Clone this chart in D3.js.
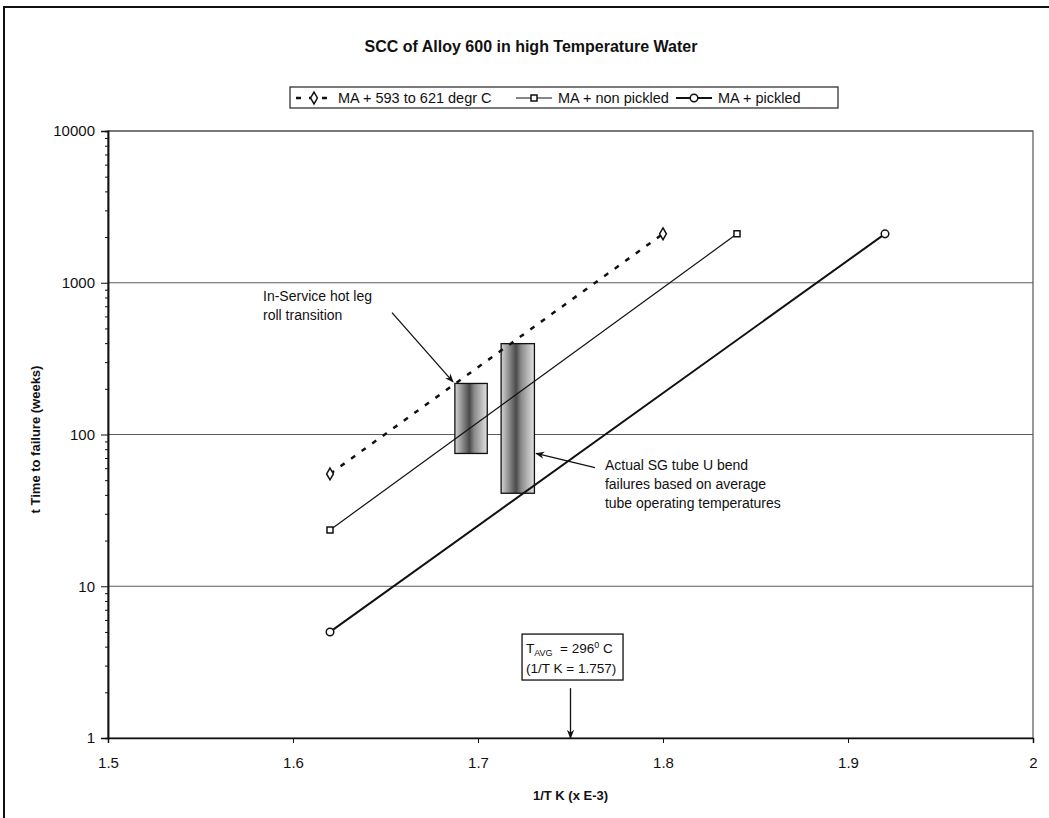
<!DOCTYPE html>
<html lang="en">
<head>
  <meta charset="UTF-8">
  <title>SCC of Alloy 600</title>
  <style>
  body { margin: 0; background: #fff; }
  svg { display: block; font-family: "Liberation Sans", Arial, sans-serif; }
  </style>
</head>
<body>
  <svg id="chart" width="1049" height="818"></svg>
  <script src="https://cdn.jsdelivr.net/npm/d3@7"></script>
  <script>

// data
const seriesNames = ['MA + 593 to 621 degr C', 'MA + non pickled', 'MA + pickled']
const xHeat = [1.62, 1.80]
const tHeat = [55, 2100]
const xNonPickled = [1.62, 1.84]
const tNonPickled = [23.5, 2100]
const xPickled = [1.62, 1.92]
const tPickled = [5, 2100]

// shaded failure bands: x from/to (1/T), time low/high
const bandX0 = [1.6875, 1.7125]
const bandX1 = [1.705, 1.7305]
const bandLow = [75, 41]
const bandHigh = [217, 397]

const xTicks = [1.5, 1.6, 1.7, 1.8, 1.9, 2]
const xTickLabels = ['1.5', '1.6', '1.7', '1.8', '1.9', '2']
const yTicks = [1, 10, 100, 1000, 10000]
const tAvgX = 1.75

const svg = d3.select('#chart')
const W = 1049, H = 818
const m = {left: 108, right: 1033, top: 131, bottom: 738}

const x = d3.scaleLinear().domain([1.5, 2]).range([m.left, m.right])
const y = d3.scaleLog().domain([1, 10000]).range([m.bottom, m.top])

svg.append('rect').attr('width', W).attr('height', H).attr('fill', '#fff')

// outer chart frame (only top and left edges show in the scan)
svg.append('path')
  .attr('d', `M4,${H} L4,7 L${W},7`)
  .attr('fill', 'none').attr('stroke', '#111').attr('stroke-width', 2)

const defs = svg.append('defs')
const grad = defs.append('linearGradient').attr('id', 'bandGrad')
  .attr('x1', '0%').attr('x2', '100%').attr('y1', '0%').attr('y2', '0%')
grad.append('stop').attr('offset', '0%').attr('stop-color', '#d4d4d4')
grad.append('stop').attr('offset', '45%').attr('stop-color', '#4a4a4a')
grad.append('stop').attr('offset', '60%').attr('stop-color', '#8a8a8a')
grad.append('stop').attr('offset', '100%').attr('stop-color', '#e2e2e2')

const arrow = defs.append('marker').attr('id', 'arr')
  .attr('viewBox', '0 0 10 10').attr('refX', 9).attr('refY', 5)
  .attr('markerWidth', 9).attr('markerHeight', 9).attr('orient', 'auto')
  .attr('markerUnits', 'userSpaceOnUse')
arrow.append('path').attr('d', 'M0,1 L10,5 L0,9 L3,5 Z').attr('fill', '#111')

// gridlines
svg.append('g').selectAll('line').data(yTicks.slice(1)).join('line')
  .attr('x1', m.left).attr('x2', m.right)
  .attr('y1', d => y(d)).attr('y2', d => y(d))
  .attr('stroke', '#5e5e5e').attr('stroke-width', 1.2)

// plot frame
svg.append('rect')
  .attr('x', m.left).attr('y', m.top)
  .attr('width', m.right - m.left).attr('height', m.bottom - m.top)
  .attr('fill', 'none').attr('stroke', '#555').attr('stroke-width', 1.2)

// axes
const xAxis = d3.axisBottom(x).tickValues(xTicks)
  .tickFormat((d, i) => xTickLabels[i]).tickSize(5).tickPadding(14)
const gx = svg.append('g').attr('transform', `translate(0,${m.bottom})`).call(xAxis)

const yMinor = []
yTicks.slice(0, -1).forEach(t => { for (let k = 2; k < 10; k++) yMinor.push(t * k) })
svg.append('g').attr('transform', `translate(${m.left},0)`)
  .call(d3.axisLeft(y).tickValues(yMinor).tickSize(3).tickFormat(''))
const gy = svg.append('g').attr('transform', `translate(${m.left},0)`)
  .call(d3.axisLeft(y).tickValues(yTicks).tickFormat(d3.format('d')).tickSize(7).tickPadding(6))

svg.selectAll('.domain').attr('stroke', '#111').attr('stroke-width', 1.5)
svg.selectAll('.tick line').attr('stroke', '#111')
gx.selectAll('text').attr('font-size', 15).attr('fill', '#111')
gy.selectAll('text').attr('font-size', 15).attr('fill', '#111')

// titles
svg.append('text').attr('x', 531).attr('y', 52).attr('text-anchor', 'middle')
  .attr('font-size', 16).attr('font-weight', 'bold').attr('fill', '#111')
  .text('SCC of Alloy 600 in high Temperature Water')
svg.append('text').attr('x', (m.left + m.right) / 2).attr('y', 800).attr('text-anchor', 'middle')
  .attr('font-size', 13).attr('font-weight', 'bold').attr('fill', '#111')
  .text('1/T K (x E-3)')
svg.append('text').attr('transform', `translate(40,${(m.top + m.bottom) / 2 + 5}) rotate(-90)`)
  .attr('text-anchor', 'middle').attr('font-size', 13).attr('font-weight', 'bold').attr('fill', '#111')
  .text('t Time to failure (weeks)')

// shaded bands
svg.append('g').selectAll('rect').data(bandX0).join('rect')
  .attr('x', (d, i) => x(d))
  .attr('y', (d, i) => y(bandHigh[i]))
  .attr('width', (d, i) => x(bandX1[i]) - x(d))
  .attr('height', (d, i) => y(bandLow[i]) - y(bandHigh[i]))
  .attr('fill', 'url(#bandGrad)').attr('stroke', '#111').attr('stroke-width', 1.3)

// series
const series = [
  {xs: xHeat, ts: tHeat, dash: '5,8', width: 2.5, marker: 'diamond'},
  {xs: xNonPickled, ts: tNonPickled, dash: null, width: 1.2, marker: 'square'},
  {xs: xPickled, ts: tPickled, dash: null, width: 2, marker: 'circle'}
]
const line = d3.line().x(d => x(d[0])).y(d => y(d[1]))
const sym = {
  diamond: d3.symbol().type(d3.symbolDiamond).size(40),
  square: d3.symbol().type(d3.symbolSquare).size(36),
  circle: d3.symbol().type(d3.symbolCircle).size(45)
}

series.forEach(s => {
  const pts = s.xs.map((v, i) => [v, s.ts[i]])
  svg.append('path').datum(pts).attr('d', line)
    .attr('fill', 'none').attr('stroke', '#111').attr('stroke-width', s.width)
    .attr('stroke-dasharray', s.dash)
  svg.append('g').selectAll('path').data(pts).join('path')
    .attr('transform', d => `translate(${x(d[0])},${y(d[1])})`)
    .attr('d', sym[s.marker]).attr('fill', '#fff').attr('stroke', '#111').attr('stroke-width', 1.5)
})

// legend
const lg = svg.append('g')
lg.append('rect').attr('x', 290).attr('y', 87).attr('width', 548).attr('height', 21)
  .attr('fill', '#fff').attr('stroke', '#222').attr('stroke-width', 1.2)
const legendX = [296, 516, 676]
series.forEach((s, i) => {
  const g = lg.append('g').attr('transform', `translate(${legendX[i]},98)`)
  g.append('line').attr('x1', 0).attr('x2', 36).attr('stroke', '#111')
    .attr('stroke-width', s.width).attr('stroke-dasharray', s.dash)
  g.append('path').attr('transform', 'translate(18,0)').attr('d', sym[s.marker])
    .attr('fill', '#fff').attr('stroke', '#111').attr('stroke-width', 1.5)
  g.append('text').attr('x', 42).attr('y', 5).attr('font-size', 14.5).attr('fill', '#111')
    .text(seriesNames[i])
})

// annotations
const note = svg.append('g').attr('font-size', 14).attr('fill', '#111')
note.append('text').attr('x', x(1.5838)).attr('y', y(760))
  .selectAll('tspan').data(['In-Service hot leg', 'roll transition']).join('tspan')
  .attr('x', x(1.5838)).attr('dy', (d, i) => i ? 19 : 0).text(d => d)
note.append('line')
  .attr('x1', x(1.6535)).attr('y1', y(635)).attr('x2', x(1.6865)).attr('y2', y(222))
  .attr('stroke', '#111').attr('stroke-width', 1.3).attr('marker-end', 'url(#arr)')

note.append('text').attr('x', x(1.7686)).attr('y', y(62.5) + 5)
  .selectAll('tspan').data(['Actual SG tube U bend', 'failures based on average', 'tube operating temperatures']).join('tspan')
  .attr('x', x(1.7686)).attr('dy', (d, i) => i ? 19 : 0).text(d => d)
note.append('line')
  .attr('x1', x(1.7632)).attr('y1', y(60.6)).attr('x2', x(1.7314)).attr('y2', y(75))
  .attr('stroke', '#111').attr('stroke-width', 1.3).attr('marker-end', 'url(#arr)')

// T avg box
const bx0 = x(1.7238), bx1 = x(1.7784), by0 = y(4.84), by1 = y(2.41)
note.append('rect').attr('x', bx0).attr('y', by0).attr('width', bx1 - bx0).attr('height', by1 - by0)
  .attr('fill', '#fff').attr('stroke', '#111').attr('stroke-width', 1.3)
const t1 = note.append('text').attr('x', bx0 + 4).attr('y', by0 + 19).attr('font-size', 13.5)
t1.append('tspan').text('T')
t1.append('tspan').attr('font-size', 9).attr('dy', 3).text('AVG')
t1.append('tspan').attr('dy', -3).text('\u00a0 = 296')
t1.append('tspan').attr('font-size', 9).attr('dy', -5).text('0')
t1.append('tspan').attr('dy', 5).text(' C')
note.append('text').attr('x', bx0 + 4).attr('y', by0 + 39).attr('font-size', 13.5).text('(1/T K = 1.757)')
note.append('line')
  .attr('x1', x(tAvgX)).attr('y1', y(2.13)).attr('x2', x(tAvgX)).attr('y2', y(1))
  .attr('stroke', '#111').attr('stroke-width', 1.3).attr('marker-end', 'url(#arr)')

  </script>
</body>
</html>
